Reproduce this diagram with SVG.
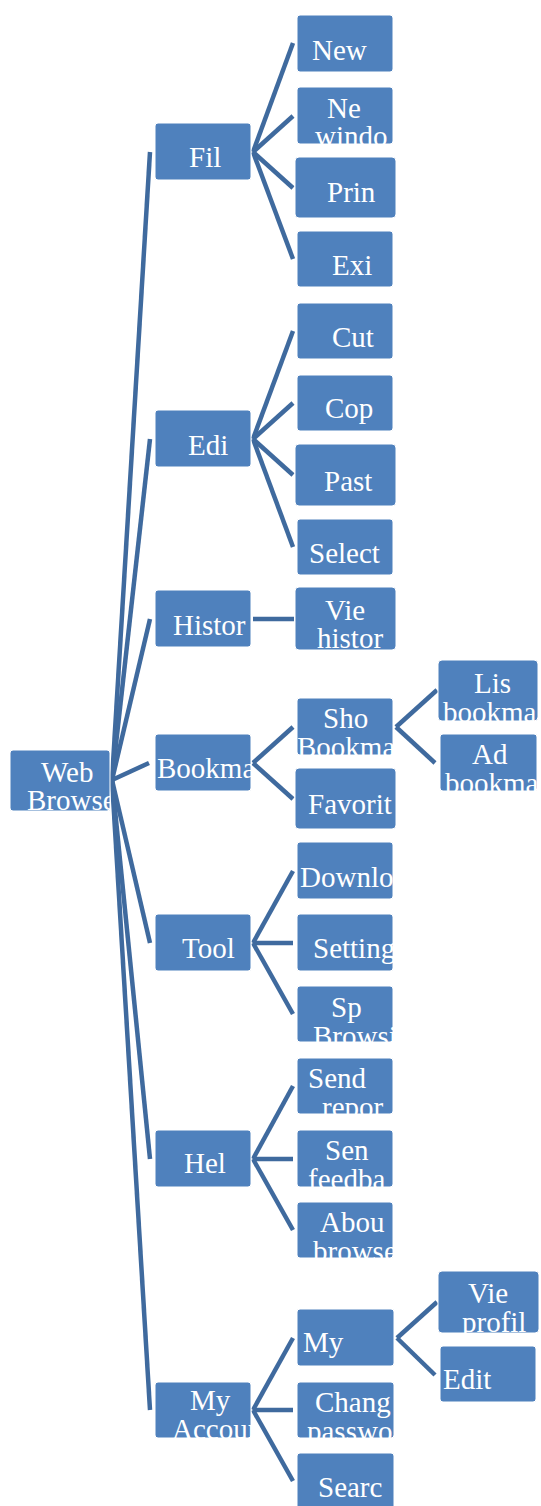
<svg xmlns="http://www.w3.org/2000/svg" width="541" height="1506" viewBox="0 0 541 1506">
<style>
.b{fill:#4F81BD;stroke:#ffffff;stroke-width:1}
.t{font-family:"Liberation Serif","DejaVu Serif",serif;font-size:29px;fill:#ffffff}
.c line{stroke:#3F6A9E;stroke-width:4.5;stroke-linecap:butt}
</style>
<rect width="541" height="1506" fill="#ffffff"/>
<g class="c" id="connectors">
<line x1="112" y1="780" x2="150" y2="152"/>
<line x1="112" y1="780" x2="150" y2="439"/>
<line x1="112" y1="780" x2="150" y2="619"/>
<line x1="112" y1="780" x2="149" y2="763"/>
<line x1="112" y1="780" x2="150" y2="943"/>
<line x1="112" y1="780" x2="150" y2="1159"/>
<line x1="112" y1="780" x2="150" y2="1410"/>
<line x1="253" y1="152" x2="293" y2="43"/>
<line x1="253" y1="152" x2="293" y2="116"/>
<line x1="253" y1="152" x2="293" y2="188"/>
<line x1="253" y1="152" x2="293" y2="259"/>
<line x1="253" y1="439" x2="293" y2="331"/>
<line x1="253" y1="439" x2="293" y2="403"/>
<line x1="253" y1="439" x2="293" y2="475"/>
<line x1="253" y1="439" x2="293" y2="547"/>
<line x1="253" y1="619" x2="294" y2="619"/>
<line x1="253" y1="763" x2="293" y2="727"/>
<line x1="253" y1="763" x2="293" y2="799"/>
<line x1="253" y1="943" x2="293" y2="871"/>
<line x1="253" y1="943" x2="293" y2="943"/>
<line x1="253" y1="943" x2="293" y2="1014"/>
<line x1="253" y1="1159" x2="293" y2="1086"/>
<line x1="253" y1="1159" x2="293" y2="1159"/>
<line x1="253" y1="1159" x2="293" y2="1230"/>
<line x1="253" y1="1410" x2="293" y2="1338"/>
<line x1="253" y1="1410" x2="293" y2="1410"/>
<line x1="253" y1="1410" x2="293" y2="1481"/>
<line x1="396" y1="727" x2="437" y2="690"/>
<line x1="396" y1="727" x2="435" y2="763"/>
<line x1="397" y1="1338" x2="437" y2="1302"/>
<line x1="397" y1="1338" x2="435" y2="1375"/>
</g>
<g id="n-root"><rect class="b" x="10" y="750" width="100" height="61" rx="3"/><svg x="10" y="750" width="100" height="61" viewBox="10 750 100 61"><text class="t" x="41" y="782">Web</text><text class="t" x="27" y="810">Browser</text></svg></g>
<g id="n-file"><rect class="b" x="155" y="123" width="96" height="57" rx="3"/><text class="t" x="189" y="167">Fil</text></g>
<g id="n-edit"><rect class="b" x="155" y="410" width="96" height="57" rx="3"/><text class="t" x="188" y="455">Edi</text></g>
<g id="n-history"><rect class="b" x="155" y="590" width="96" height="57" rx="3"/><svg x="155" y="590" width="96" height="57" viewBox="155 590 96 57"><text class="t" x="173" y="635">Histor</text></svg></g>
<g id="n-bookmarks"><rect class="b" x="155" y="734" width="96" height="57" rx="3"/><svg x="155" y="734" width="96" height="57" viewBox="155 734 96 57"><text class="t" x="157" y="778">Bookma</text></svg></g>
<g id="n-tools"><rect class="b" x="155" y="914" width="96" height="57" rx="3"/><text class="t" x="182" y="958">Tool</text></g>
<g id="n-help"><rect class="b" x="155" y="1130" width="96" height="57" rx="3"/><text class="t" x="184" y="1173">Hel</text></g>
<g id="n-account"><rect class="b" x="155" y="1382" width="96" height="56" rx="3"/><svg x="155" y="1382" width="96" height="56" viewBox="155 1382 96 56"><text class="t" x="190" y="1410">My</text><text class="t" x="172" y="1439">Account</text></svg></g>
<g id="n-new"><rect class="b" x="297" y="15" width="96" height="57" rx="3"/><text class="t" x="312" y="60">New</text></g>
<g id="n-newwindow"><rect class="b" x="297" y="87" width="96" height="57" rx="3"/><svg x="297" y="87" width="96" height="57" viewBox="297 87 96 57"><text class="t" x="327" y="118">Ne</text><text class="t" x="315" y="146">windo</text></svg></g>
<g id="n-print"><rect class="b" x="295" y="157" width="101" height="61" rx="4"/><text class="t" x="327" y="202">Prin</text></g>
<g id="n-exit"><rect class="b" x="297" y="231" width="96" height="56" rx="3"/><text class="t" x="332" y="275">Exi</text></g>
<g id="n-cut"><rect class="b" x="297" y="303" width="96" height="56" rx="3"/><text class="t" x="332" y="347">Cut</text></g>
<g id="n-copy"><rect class="b" x="297" y="375" width="96" height="56" rx="3"/><text class="t" x="325" y="418">Cop</text></g>
<g id="n-paste"><rect class="b" x="295" y="444" width="101" height="62" rx="4"/><text class="t" x="324" y="491">Past</text></g>
<g id="n-select"><rect class="b" x="297" y="519" width="96" height="56" rx="3"/><text class="t" x="309" y="563">Select</text></g>
<g id="n-viewhistory"><rect class="b" x="295" y="587" width="101" height="63" rx="4"/><svg x="295" y="587" width="101" height="63" viewBox="295 587 101 63"><text class="t" x="325" y="620">Vie</text><text class="t" x="317" y="648">histor</text></svg></g>
<g id="n-showbookmarks"><rect class="b" x="297" y="698" width="96" height="57" rx="3"/><svg x="297" y="698" width="96" height="57" viewBox="297 698 96 57"><text class="t" x="323" y="728">Sho</text><text class="t" x="297" y="757">Bookma</text></svg></g>
<g id="n-favorites"><rect class="b" x="295" y="768" width="101" height="61" rx="4"/><svg x="295" y="768" width="101" height="61" viewBox="295 768 101 61"><text class="t" x="308" y="814">Favorit</text></svg></g>
<g id="n-listbookmarks"><rect class="b" x="438" y="660" width="100" height="61" rx="4"/><svg x="438" y="660" width="100" height="61" viewBox="438 660 100 61"><text class="t" x="474" y="693">Lis</text><text class="t" x="443" y="722">bookma</text></svg></g>
<g id="n-addbookmark"><rect class="b" x="440" y="734" width="97" height="57" rx="3"/><svg x="440" y="734" width="97" height="57" viewBox="440 734 97 57"><text class="t" x="472" y="764">Ad</text><text class="t" x="445" y="793">bookma</text></svg></g>
<g id="n-downloads"><rect class="b" x="297" y="842" width="96" height="57" rx="3"/><svg x="297" y="842" width="96" height="57" viewBox="297 842 96 57"><text class="t" x="300" y="887">Downlo</text></svg></g>
<g id="n-settings"><rect class="b" x="297" y="914" width="96" height="57" rx="3"/><svg x="297" y="914" width="96" height="57" viewBox="297 914 96 57"><text class="t" x="313" y="958">Setting</text></svg></g>
<g id="n-safebrowsing"><rect class="b" x="297" y="986" width="96" height="56" rx="3"/><svg x="297" y="986" width="96" height="56" viewBox="297 986 96 56"><text class="t" x="331" y="1017">Sp</text><text class="t" x="313" y="1046">Browsi</text></svg></g>
<g id="n-sendreport"><rect class="b" x="297" y="1058" width="96" height="56" rx="3"/><svg x="297" y="1058" width="96" height="56" viewBox="297 1058 96 56"><text class="t" x="308" y="1088">Send</text><text class="t" x="322" y="1117">repor</text></svg></g>
<g id="n-sendfeedback"><rect class="b" x="297" y="1130" width="96" height="57" rx="3"/><svg x="297" y="1130" width="96" height="57" viewBox="297 1130 96 57"><text class="t" x="325" y="1160">Sen</text><text class="t" x="308" y="1189">feedba</text></svg></g>
<g id="n-about"><rect class="b" x="297" y="1202" width="96" height="56" rx="3"/><svg x="297" y="1202" width="96" height="56" viewBox="297 1202 96 56"><text class="t" x="320" y="1232">Abou</text><text class="t" x="313" y="1261">browse</text></svg></g>
<g id="n-my"><rect class="b" x="297" y="1309" width="97" height="57" rx="3"/><text class="t" x="303" y="1352">My</text></g>
<g id="n-changepassword"><rect class="b" x="297" y="1382" width="97" height="56" rx="3"/><svg x="297" y="1382" width="97" height="56" viewBox="297 1382 97 56"><text class="t" x="315" y="1412">Chang</text><text class="t" x="307" y="1441">passwo</text></svg></g>
<g id="n-search"><rect class="b" x="297" y="1453" width="97" height="60" rx="3"/><text class="t" x="318" y="1497">Searc</text></g>
<g id="n-viewprofile"><rect class="b" x="438" y="1271" width="101" height="62" rx="4"/><svg x="438" y="1271" width="101" height="62" viewBox="438 1271 101 62"><text class="t" x="468" y="1303">Vie</text><text class="t" x="462" y="1332">profil</text></svg></g>
<g id="n-editprofile"><rect class="b" x="440" y="1346" width="96" height="56" rx="3"/><text class="t" x="443" y="1389">Edit</text></g>
</svg>
